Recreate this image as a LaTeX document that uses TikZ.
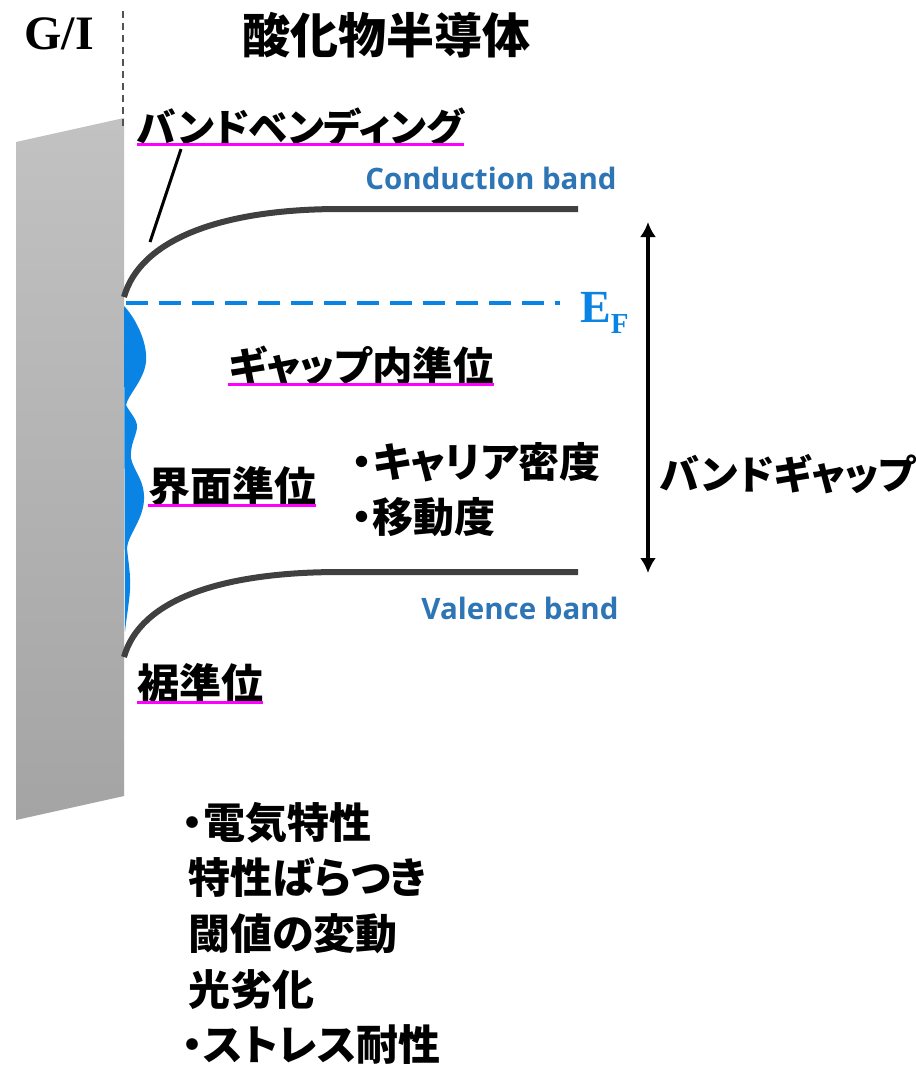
\documentclass[tikz,border=0pt]{standalone}
\usepackage{fontspec}
\setmainfont{Liberation Serif}
\newfontfamily\jpfont{Noto Sans CJK JP}[RawFeature=+palt]
\newfontfamily\lblfont{Open Sans}
\usetikzlibrary{arrows.meta}
\definecolor{bandgray}{HTML}{404040}
\definecolor{efblue}{HTML}{0A84E4}
\definecolor{lblblue}{HTML}{2E75B6}
\definecolor{ulmag}{HTML}{FF00FF}
\definecolor{slabtop}{HTML}{C2C2C2}
\definecolor{slabbot}{HTML}{A4A4A4}
\tikzset{
  jp/.style={inner sep=0pt, font=\jpfont\bfseries\fontsize{#1}{#1}\selectfont},
  ulline/.style={draw=ulmag, line width=2.6pt},
  bandline/.style={draw=bandgray, line width=6pt},
  bandlbl/.style={inner sep=0pt, text=lblblue, font=\lblfont\bfseries\fontsize{29.5}{29.5}\selectfont},
}
\begin{document}
\begin{tikzpicture}[x=1pt,y=-1pt]
\useasboundingbox[fill=white] (0,0) rectangle (916,1066);
% gate insulator slab
\shade[top color=slabtop, bottom color=slabbot] (16,142) -- (124,118) -- (124,796) -- (16,820) -- cycle;
% interface dashed line
\draw[draw=bandgray!90, line width=1.8pt, dash pattern=on 7pt off 5pt] (123,11) -- (123,130);
% interface states
\fill[efblue] (124,306) .. controls (133,315) and (148,340) .. (146,362)
  .. controls (144,380) and (128,395) .. (126,405)
  .. controls (130,413) and (138,420) .. (137,428)
  .. controls (136,436) and (130,445) .. (131,458)
  .. controls (133,470) and (145,480) .. (144,500)
  .. controls (143,520) and (128,535) .. (127,548)
  .. controls (128,560) and (131,575) .. (130,590)
  .. controls (129,605) and (126,620) .. (125,632) -- cycle;
% bands
\draw[bandline] (124,297) .. controls (140,240) and (220,209) .. (340,209) -- (578,209);
\draw[bandline] (124,657) .. controls (140,600) and (220,572) .. (340,572) -- (578,572);
% Fermi level
\draw[draw=efblue, line width=4.5pt, dash pattern=on 22pt off 11pt] (126,303) -- (560,303);
\node[anchor=base west, inner sep=0pt, text=efblue, font=\bfseries\fontsize{46}{46}\selectfont] (ef) at (580,322) {E\raisebox{-11pt}{\fontsize{29}{29}\selectfont F}};
% titles
\node[anchor=base, inner sep=0pt, font=\bfseries\fontsize{48}{48}\selectfont] (gi) at (59,49) {G/I};
\node[jp=48] (title) at (386,35) {酸化物半導体};
% labels
\node[bandlbl] (cb) at (491,178) {Conduction band};
\node[bandlbl] (vb) at (520,608) {Valence band};
\node[jp=39.5, anchor=west] (bb) at (137,127) {バンドベンディング};
\draw[ulline] ([yshift=2pt]bb.south west) -- ([yshift=2pt]bb.south east);
\coordinate (leadtop) at (181,149);
\coordinate (leadbot) at (150,242);
\draw[line width=3pt] (leadtop) -- (leadbot);
\node[jp=40.5, anchor=west] (gs) at (228,366) {ギャップ内準位};
\draw[ulline] ([yshift=2pt]gs.south west) -- ([yshift=2pt]gs.south east);
\node[jp=42, anchor=west] (is) at (148,487) {界面準位};
\draw[ulline] ([yshift=2pt]is.south west) -- ([yshift=2pt]is.south east);
\node[jp=42, anchor=west] (ts) at (137,684) {裾準位};
\draw[ulline] ([yshift=2pt]ts.south west) -- ([yshift=2pt]ts.south east);
\node[jp=41, anchor=west] (cd) at (352,462) {・キャリア密度};
\node[jp=41, anchor=west] (mob) at (352,517) {・移動度};
% band gap arrow
\coordinate (gaptop) at (648,222);
\coordinate (gapbot) at (648,573);
\draw[line width=4pt, {Latex[length=15pt,width=16pt]}-{Latex[length=15pt,width=16pt]}] (gaptop) -- (gapbot);
\node[jp=40, anchor=west] (bg) at (660,474) {バンドギャップ};
% bottom list
\node[jp=42, anchor=west] (l1) at (182,823) {・電気特性};
\node[jp=42, anchor=west] (l2) at (188,878) {特性ばらつき};
\node[jp=42, anchor=west] (l3) at (188,934) {閾値の変動};
\node[jp=42, anchor=west] (l4) at (188,990) {光劣化};
\node[jp=42, anchor=west] (l5) at (182,1045) {・ストレス耐性};
\end{tikzpicture}
\end{document}
